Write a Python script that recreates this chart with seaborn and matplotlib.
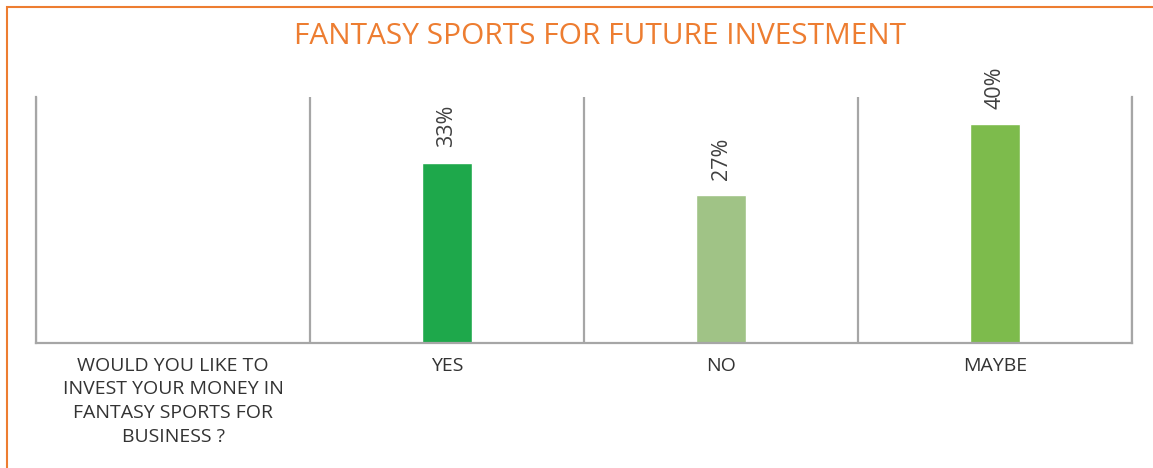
import numpy as np
import pandas as pd
import matplotlib
matplotlib.use("Agg")
import matplotlib.pyplot as plt
import seaborn as sns
from matplotlib.patches import Rectangle

# Données
categories = ["WOULD YOU LIKE TO\nINVEST YOUR MONEY IN\nFANTASY SPORTS FOR\nBUSINESS ?",
              "YES", "NO", "MAYBE"]
values = [np.nan, 33, 27, 40]
bar_colors = ["#FFFFFF", "#1EA84B", "#A0C386", "#7DBB4C"]
title = "FANTASY SPORTS FOR FUTURE INVESTMENT"

df = pd.DataFrame({"cat": categories, "val": values})

sns.set_theme(style="white")
plt.rcParams["font.family"] = ["Open Sans", "DejaVu Sans"]

fig = plt.figure(figsize=(11.53, 4.68), dpi=100)
ax = fig.add_axes([36 / 1153, 1 - 343 / 468, 1096 / 1153, 246 / 468])

sns.barplot(data=df, x="cat", y="val", hue="cat", palette=bar_colors,
            legend=False, width=0.186, ax=ax, saturation=1)

# Étiquettes des barres
for cont in ax.containers:
    ax.bar_label(cont, labels=[f"{v:.0f}%" if not np.isnan(v) else "" for v in cont.datavalues],
                 rotation=90, padding=11, fontsize=15.5, color="#404040")

ax.set_ylim(0, 45)
ax.set_xlim(-0.5, len(categories) - 0.5)
ax.set_yticks([])
ax.set_xlabel("")
ax.set_ylabel("")

# Séparateurs verticaux entre catégories
ax.set_xticks(np.arange(len(categories) + 1) - 0.5, minor=True)
ax.grid(True, which="minor", axis="x", color="#A6A6A6", linewidth=1.6)
ax.tick_params(axis="x", which="both", length=0, pad=10, labelsize=14, labelcolor="#333333")
for s in ["left", "right", "bottom"]:
    ax.spines[s].set_color("#A6A6A6")
    ax.spines[s].set_linewidth(1.6)
ax.spines["top"].set_visible(False)

for lab in ax.get_xticklabels():
    lab.set_linespacing(1.4)

# Titre
fig.text(600 / 1153, 1 - 36 / 468, title, ha="center", va="center",
         fontsize=21.5, color="#ED7D31")

# Cadre orange
fig.patches.append(Rectangle((7 / 1153, -0.05), 1.2, 1 - 7 / 468 + 0.05,
                             transform=fig.transFigure, fill=False,
                             edgecolor="#ED7D31", linewidth=1.5))

plt.savefig("out.png", dpi=100)
plt.close()
